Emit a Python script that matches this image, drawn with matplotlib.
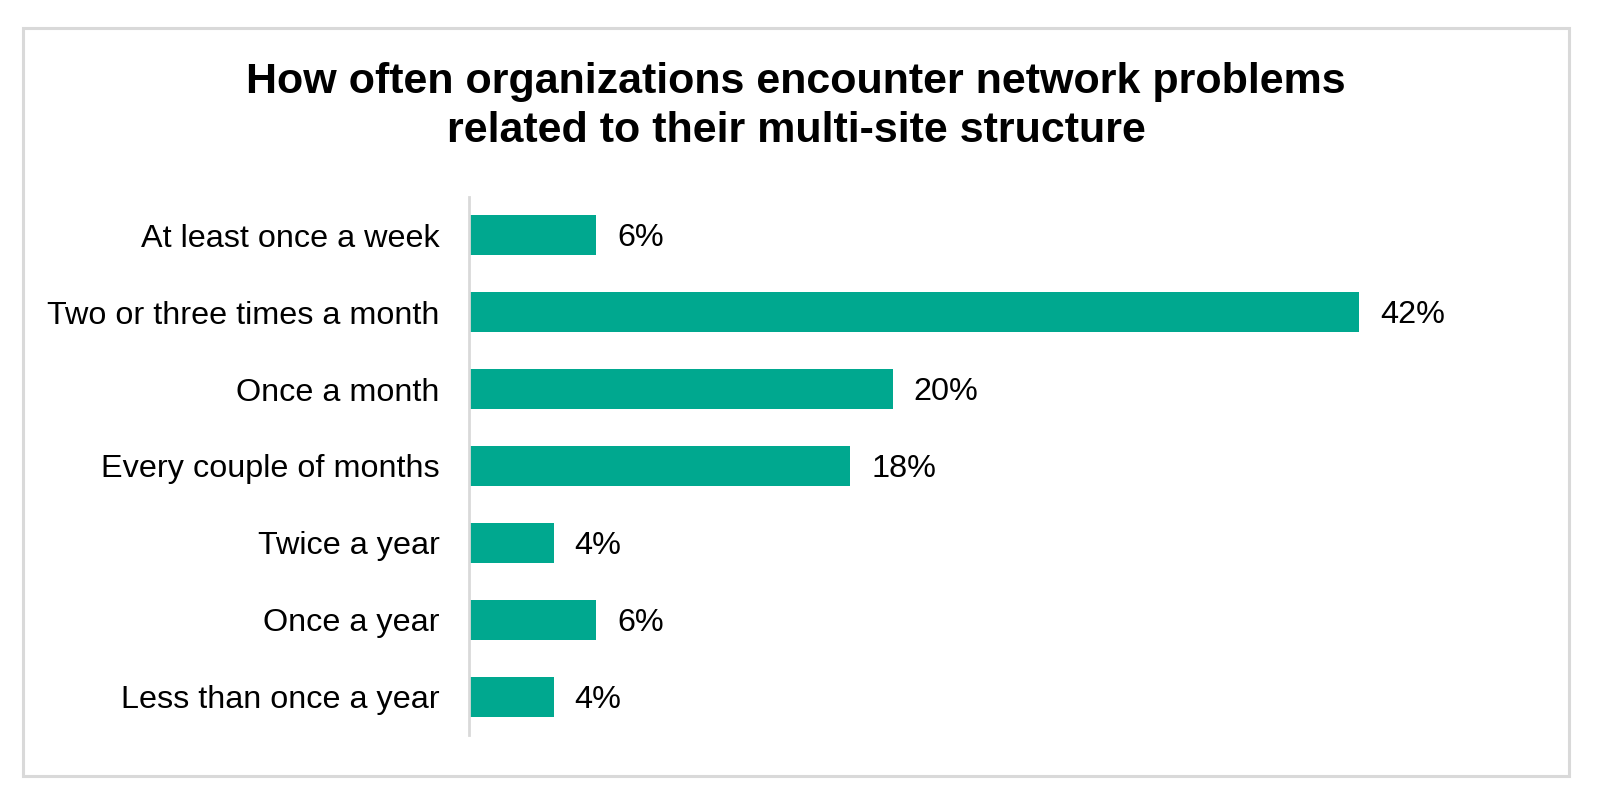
import matplotlib
matplotlib.use("Agg")
import matplotlib.pyplot as plt
from matplotlib.patches import Rectangle

categories = ["At least once a week", "Two or three times a month", "Once a month",
              "Every couple of months", "Twice a year", "Once a year", "Less than once a year"]
values = [6, 42, 20, 18, 4, 6, 4]
value_labels = ["6%", "42%", "20%", "18%", "4%", "6%", "4%"]
title_line1 = "How often organizations encounter network problems"
title_line2 = "related to their multi-site structure"

plt.rcParams['font.family'] = ['Liberation Sans', 'DejaVu Sans']

W, H = 1601, 798
fig = plt.figure(figsize=(W / 100, H / 100), dpi=100)
fig.patch.set_facecolor("white")

# outer border
fig.patches.append(Rectangle((22.5 / W, 1 - 776 / H), (1569 - 22.5) / W, (776 - 27.5) / H,
                             transform=fig.transFigure, fill=False,
                             edgecolor="#D9D9D9", linewidth=2.2))

# title lines placed by baseline
fig.text(796 / W, 1 - 92.5 / H, title_line1, ha="center", va="baseline",
         fontsize=31, fontweight="bold", color="black")
fig.text(796 / W, 1 - 141.5 / H, title_line2, ha="center", va="baseline",
         fontsize=31, fontweight="bold", color="black")

left = 469 / W
right_px = 469 + 50 * 21.19
ax = fig.add_axes([left, 1 - 735 / H, (right_px - 469) / W, (735 - 197) / H])
y = list(range(len(categories)))
ax.barh(y, values, height=0.52, color="#00A88F")
ax.set_xlim(0, 50)
ax.set_ylim(len(categories) - 0.5, -0.5)
ax.set_yticks(y)
ax.set_yticklabels(categories, fontsize=23.3)
ax.tick_params(axis="y", length=0, pad=21)
ax.set_xticks([])
for s in ["top", "right", "bottom"]:
    ax.spines[s].set_visible(False)
ax.spines["left"].set_color("#D9D9D9")
ax.spines["left"].set_linewidth(2)
ax.set_facecolor("none")

for yi, v, lab in zip(y, values, value_labels):
    ax.annotate(lab, (v, yi), xytext=(15, -2.2), textcoords="offset points",
                ha="left", va="center", fontsize=23.3, color="black")

fig.savefig("out.png", dpi=100, facecolor="white")
